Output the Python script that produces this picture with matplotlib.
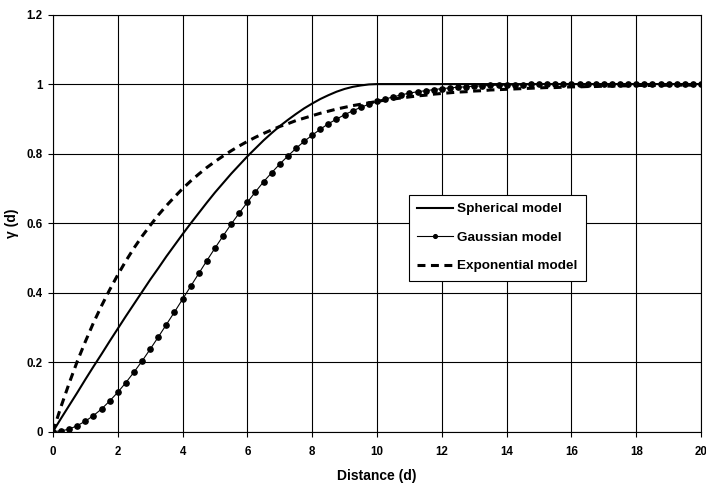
import numpy as np
import matplotlib
matplotlib.use('Agg')
import matplotlib.pyplot as plt

plt.rcParams['font.family'] = ['Liberation Sans', 'DejaVu Sans']

# Distance grid (step 0.25)
distance = np.arange(0, 20.001, 0.25)

spherical = [
    0.000, 0.038, 0.075, 0.112, 0.150, 0.187, 0.223, 0.260, 0.296, 0.332,
    0.367, 0.402, 0.437, 0.470, 0.504, 0.536, 0.568, 0.599, 0.629, 0.659,
    0.688, 0.715, 0.742, 0.767, 0.792, 0.815, 0.838, 0.859, 0.879, 0.897,
    0.914, 0.930, 0.944, 0.957, 0.968, 0.978, 0.986, 0.992, 0.996, 0.999,
    1.000] + [1.000] * 40

gaussian = [
    0.000, 0.002, 0.007, 0.017, 0.030, 0.046, 0.065, 0.088, 0.113, 0.141,
    0.171, 0.203, 0.237, 0.272, 0.308, 0.344, 0.381, 0.418, 0.455, 0.492,
    0.528, 0.563, 0.597, 0.629, 0.660, 0.690, 0.719, 0.745, 0.770, 0.793,
    0.815, 0.835, 0.853, 0.870, 0.886, 0.899, 0.912, 0.923, 0.933, 0.942,
    0.950, 0.957, 0.963, 0.969, 0.974, 0.978, 0.981, 0.984, 0.987, 0.989,
    0.991, 0.992, 0.994, 0.995, 0.996, 0.997, 0.997, 0.998, 0.998, 0.999,
    0.999, 0.999, 0.999, 0.999] + [1.000] * 17

exponential = [
    0.000, 0.072, 0.139, 0.202, 0.259, 0.313, 0.362, 0.408, 0.451, 0.491,
    0.528, 0.562, 0.593, 0.623, 0.650, 0.675, 0.699, 0.721, 0.741, 0.760,
    0.777, 0.793, 0.808, 0.822, 0.835, 0.847, 0.858, 0.868, 0.878, 0.886,
    0.895, 0.902, 0.909, 0.916, 0.922, 0.928, 0.933, 0.938, 0.942, 0.946,
    0.950, 0.954, 0.957, 0.960, 0.963, 0.966, 0.968, 0.971, 0.973, 0.975,
    0.977, 0.978, 0.980, 0.981, 0.983, 0.984, 0.985, 0.986, 0.987, 0.988,
    0.989, 0.990, 0.990, 0.991, 0.992, 0.992, 0.993, 0.993, 0.994, 0.994,
    0.995, 0.995, 0.996, 0.996, 0.996, 0.996, 0.997, 0.997, 0.997, 0.997,
    0.998]

fig = plt.figure(figsize=(7.06, 4.86), dpi=100)
ax = fig.add_axes([0.075, 0.112, 0.918, 0.858])

ax.grid(True, color='black', linewidth=0.8)
ax.set_axisbelow(True)

ax.plot(distance, spherical, color='black', linewidth=1.5, label='Spherical model')
ax.plot(distance, gaussian, color='black', linewidth=0.8, marker='o',
        markersize=3.8, label='Gaussian model')
ax.plot(distance, exponential, color='black', linewidth=2.2,
        linestyle=(0, (2.6, 1.8)), label='Exponential model')

ax.set_xlim(0, 20)
ax.set_ylim(0, 1.2)
ax.set_xticks(np.arange(0, 21, 2))
ax.set_yticks([0, 0.2, 0.4, 0.6, 0.8, 1.0, 1.2])
ax.set_yticklabels(['0', '0.2', '0.4', '0.6', '0.8', '1', '1.2'])
ax.tick_params(direction='out', length=3.5, width=0.8, labelsize=8.3)
ax.tick_params(axis='x', pad=7)
ax.tick_params(axis='y', pad=4)
for lab in ax.get_xticklabels() + ax.get_yticklabels():
    lab.set_fontweight('bold')

for sp in ax.spines.values():
    sp.set_linewidth(0.8)

ax.set_xlabel('Distance (d)', fontsize=10, fontweight='bold', labelpad=8)
ax.set_ylabel('γ (d)', fontsize=10, fontweight='bold', labelpad=5)

leg = ax.legend(loc='upper left', bbox_to_anchor=(0.549, 0.568), borderaxespad=0,
                fancybox=False, edgecolor='black', framealpha=1,
                handlelength=2.7, borderpad=0.6, labelspacing=1.2,
                handletextpad=0.3, markerscale=0.7,
                prop={'weight': 'bold', 'size': 9.7})
leg.get_frame().set_linewidth(0.8)

plt.savefig('out.png', dpi=100)
plt.close()
